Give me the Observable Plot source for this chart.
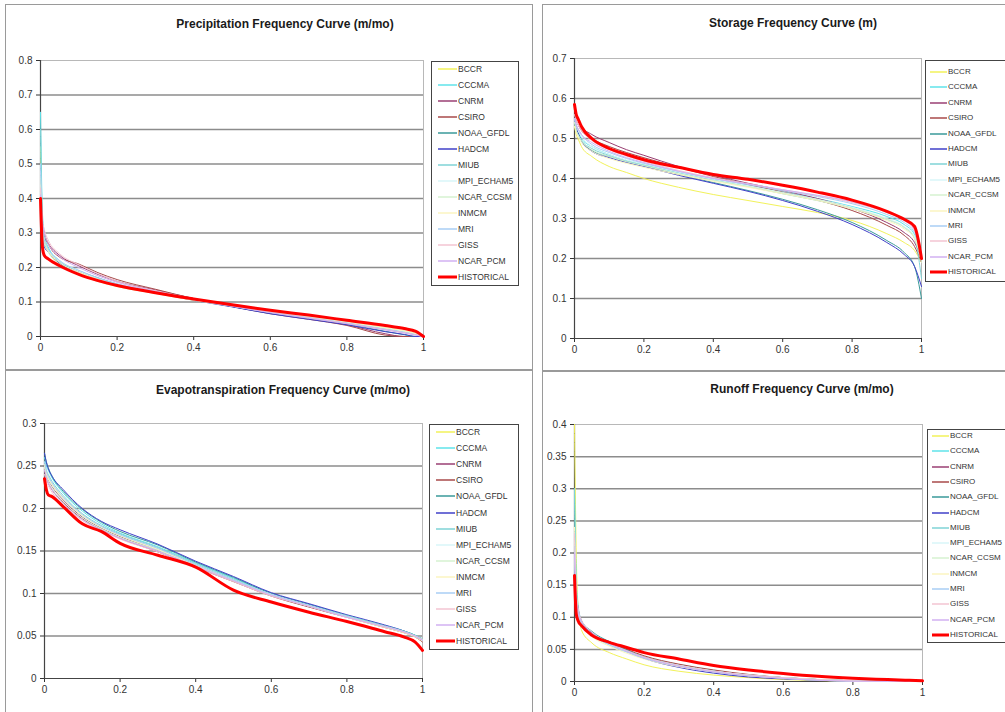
<!DOCTYPE html>
<html><head><meta charset="utf-8">
<script src="https://cdn.jsdelivr.net/npm/d3@7"></script>
<script src="https://cdn.jsdelivr.net/npm/@observablehq/plot@0.6"></script>
<style>
body{margin:0;background:#fff;font-family:"Liberation Sans",Arial,sans-serif;}
#root{position:relative;width:1005px;height:712px;overflow:hidden;background:#fff;}
.panel{position:absolute;border:1.5px solid #9a9a9a;box-sizing:border-box;background:#fff;}
.title{position:absolute;font-weight:bold;font-size:12px;line-height:14px;color:#1a1a1a;white-space:nowrap;transform:translateX(-50%);}
.legend{position:absolute;border:1px solid #444;background:#fff;box-sizing:border-box;}
.item{position:absolute;left:0;line-height:10px;color:#333;white-space:nowrap;}
.chart{position:absolute;}
</style></head>
<body><div id="root"></div>
<script>
// ---- data ----
const models = ["BCCR","CCCMA","CNRM","CSIRO","NOAA_GFDL","HADCM","MIUB","MPI_ECHAM5","NCAR_CCSM","INMCM","MRI","GISS","NCAR_PCM","HISTORICAL"];
const xs = [0, 0.005, 0.01, 0.02, 0.05, 0.1, 0.15, 0.2, 0.3, 0.4, 0.5, 0.6, 0.7, 0.8, 0.9, 0.95, 0.98, 1];
const xTicks = [0, 0.2, 0.4, 0.6, 0.8, 1];

const precipValues = [
  [0.55, 0.33, 0.28, 0.25, 0.21, 0.18, 0.16, 0.145, 0.125, 0.105, 0.09, 0.072, 0.058, 0.042, 0.025, 0.015, 0.008, 0.0],
  [0.65, 0.36, 0.30, 0.26, 0.22, 0.19, 0.165, 0.15, 0.128, 0.107, 0.088, 0.07, 0.055, 0.04, 0.022, 0.013, 0.006, 0.0],
  [0.42, 0.32, 0.29, 0.27, 0.235, 0.205, 0.18, 0.16, 0.135, 0.11, 0.088, 0.068, 0.052, 0.034, 0.008, 0.0, 0.0, 0.0],
  [0.40, 0.33, 0.30, 0.27, 0.23, 0.21, 0.185, 0.165, 0.137, 0.11, 0.087, 0.066, 0.05, 0.032, 0.004, 0.0, 0.0, 0.0],
  [0.45, 0.30, 0.27, 0.25, 0.215, 0.19, 0.17, 0.152, 0.128, 0.106, 0.087, 0.067, 0.052, 0.036, 0.015, 0.005, 0.0, 0.0],
  [0.38, 0.29, 0.26, 0.245, 0.212, 0.188, 0.168, 0.15, 0.127, 0.105, 0.086, 0.066, 0.05, 0.034, 0.014, 0.006, 0.0, 0.0],
  [0.60, 0.34, 0.29, 0.255, 0.215, 0.19, 0.168, 0.15, 0.127, 0.107, 0.089, 0.071, 0.056, 0.04, 0.022, 0.014, 0.007, 0.0],
  [0.48, 0.31, 0.28, 0.25, 0.22, 0.19, 0.168, 0.152, 0.13, 0.108, 0.09, 0.072, 0.057, 0.041, 0.024, 0.015, 0.008, 0.0],
  [0.46, 0.30, 0.27, 0.245, 0.21, 0.185, 0.165, 0.148, 0.126, 0.106, 0.089, 0.072, 0.058, 0.043, 0.026, 0.017, 0.009, 0.0],
  [0.44, 0.31, 0.28, 0.25, 0.215, 0.187, 0.166, 0.149, 0.126, 0.105, 0.088, 0.071, 0.057, 0.042, 0.025, 0.016, 0.008, 0.0],
  [0.50, 0.32, 0.28, 0.255, 0.22, 0.192, 0.17, 0.152, 0.129, 0.107, 0.088, 0.07, 0.055, 0.039, 0.021, 0.012, 0.005, 0.0],
  [0.43, 0.34, 0.31, 0.28, 0.24, 0.208, 0.182, 0.16, 0.133, 0.109, 0.089, 0.07, 0.054, 0.038, 0.02, 0.011, 0.005, 0.0],
  [0.41, 0.33, 0.30, 0.27, 0.232, 0.2, 0.176, 0.157, 0.131, 0.108, 0.088, 0.069, 0.053, 0.037, 0.019, 0.01, 0.004, 0.0],
  [0.40, 0.26, 0.235, 0.225, 0.205, 0.18, 0.162, 0.148, 0.127, 0.109, 0.092, 0.076, 0.062, 0.047, 0.032, 0.023, 0.015, 0.0]
];
const storageValues = [
  [0.53, 0.51, 0.50, 0.48, 0.455, 0.43, 0.415, 0.40, 0.378, 0.36, 0.345, 0.33, 0.315, 0.295, 0.262, 0.24, 0.22, 0.19],
  [0.55, 0.53, 0.52, 0.50, 0.48, 0.46, 0.445, 0.435, 0.415, 0.398, 0.383, 0.367, 0.35, 0.33, 0.305, 0.285, 0.26, 0.2],
  [0.57, 0.555, 0.545, 0.53, 0.51, 0.49, 0.472, 0.458, 0.43, 0.408, 0.388, 0.37, 0.35, 0.325, 0.29, 0.265, 0.24, 0.2],
  [0.56, 0.545, 0.535, 0.52, 0.50, 0.48, 0.465, 0.452, 0.428, 0.405, 0.385, 0.366, 0.346, 0.32, 0.283, 0.258, 0.23, 0.19],
  [0.55, 0.53, 0.515, 0.495, 0.47, 0.455, 0.442, 0.432, 0.41, 0.39, 0.37, 0.348, 0.322, 0.29, 0.245, 0.215, 0.18, 0.1],
  [0.55, 0.53, 0.515, 0.495, 0.468, 0.452, 0.44, 0.43, 0.408, 0.388, 0.368, 0.345, 0.318, 0.285, 0.24, 0.21, 0.18, 0.13],
  [0.54, 0.52, 0.51, 0.495, 0.475, 0.458, 0.445, 0.435, 0.415, 0.397, 0.38, 0.362, 0.345, 0.325, 0.298, 0.278, 0.25, 0.15],
  [0.55, 0.53, 0.52, 0.505, 0.48, 0.46, 0.446, 0.436, 0.416, 0.398, 0.382, 0.365, 0.348, 0.328, 0.3, 0.28, 0.255, 0.2],
  [0.54, 0.52, 0.51, 0.495, 0.472, 0.455, 0.442, 0.432, 0.412, 0.395, 0.38, 0.364, 0.347, 0.326, 0.298, 0.278, 0.252, 0.19],
  [0.53, 0.515, 0.505, 0.49, 0.468, 0.45, 0.438, 0.428, 0.41, 0.393, 0.378, 0.362, 0.345, 0.324, 0.295, 0.274, 0.25, 0.2],
  [0.55, 0.535, 0.525, 0.51, 0.485, 0.465, 0.45, 0.438, 0.418, 0.4, 0.385, 0.37, 0.355, 0.337, 0.31, 0.29, 0.265, 0.22],
  [0.56, 0.545, 0.535, 0.52, 0.495, 0.472, 0.456, 0.443, 0.42, 0.402, 0.387, 0.372, 0.357, 0.34, 0.315, 0.295, 0.27, 0.22],
  [0.55, 0.535, 0.525, 0.51, 0.49, 0.468, 0.452, 0.44, 0.418, 0.4, 0.386, 0.372, 0.358, 0.342, 0.316, 0.296, 0.272, 0.21],
  [0.585, 0.56, 0.55, 0.53, 0.50, 0.475, 0.46, 0.447, 0.428, 0.41, 0.398, 0.383, 0.366, 0.346, 0.318, 0.298, 0.28, 0.2]
];
const etValues = [
  [0.25, 0.24, 0.235, 0.228, 0.212, 0.192, 0.178, 0.168, 0.152, 0.134, 0.116, 0.099, 0.086, 0.073, 0.061, 0.055, 0.05, 0.045],
  [0.26, 0.25, 0.245, 0.236, 0.218, 0.197, 0.182, 0.171, 0.155, 0.136, 0.118, 0.1, 0.087, 0.074, 0.062, 0.056, 0.051, 0.046],
  [0.25, 0.24, 0.234, 0.226, 0.21, 0.19, 0.177, 0.167, 0.151, 0.133, 0.115, 0.098, 0.085, 0.073, 0.061, 0.055, 0.05, 0.044],
  [0.245, 0.236, 0.23, 0.222, 0.207, 0.188, 0.175, 0.165, 0.149, 0.131, 0.114, 0.097, 0.084, 0.072, 0.06, 0.054, 0.049, 0.043],
  [0.265, 0.255, 0.248, 0.238, 0.22, 0.199, 0.184, 0.173, 0.157, 0.137, 0.119, 0.1, 0.087, 0.074, 0.062, 0.056, 0.051, 0.046],
  [0.265, 0.254, 0.247, 0.238, 0.222, 0.2, 0.185, 0.175, 0.158, 0.138, 0.12, 0.101, 0.088, 0.075, 0.063, 0.056, 0.05, 0.045],
  [0.255, 0.245, 0.24, 0.232, 0.215, 0.194, 0.18, 0.17, 0.154, 0.135, 0.117, 0.099, 0.086, 0.074, 0.062, 0.056, 0.051, 0.047],
  [0.25, 0.241, 0.235, 0.227, 0.211, 0.191, 0.178, 0.168, 0.152, 0.134, 0.116, 0.099, 0.086, 0.073, 0.061, 0.055, 0.05, 0.045],
  [0.248, 0.238, 0.232, 0.224, 0.208, 0.189, 0.176, 0.166, 0.151, 0.133, 0.115, 0.098, 0.085, 0.073, 0.061, 0.055, 0.05, 0.046],
  [0.252, 0.242, 0.236, 0.228, 0.212, 0.192, 0.178, 0.168, 0.152, 0.133, 0.115, 0.098, 0.085, 0.072, 0.06, 0.054, 0.049, 0.044],
  [0.255, 0.244, 0.238, 0.23, 0.213, 0.193, 0.179, 0.169, 0.153, 0.134, 0.116, 0.099, 0.086, 0.073, 0.061, 0.055, 0.05, 0.045],
  [0.24, 0.232, 0.227, 0.219, 0.204, 0.186, 0.174, 0.164, 0.149, 0.131, 0.114, 0.097, 0.085, 0.072, 0.061, 0.055, 0.05, 0.046],
  [0.245, 0.236, 0.23, 0.222, 0.206, 0.187, 0.175, 0.165, 0.15, 0.132, 0.115, 0.098, 0.085, 0.072, 0.061, 0.055, 0.05, 0.045],
  [0.235, 0.222, 0.216, 0.214, 0.202, 0.182, 0.173, 0.159, 0.145, 0.131, 0.104, 0.09, 0.078, 0.067, 0.055, 0.049, 0.043, 0.033]
];
const runoffValues = [
  [0.40, 0.2, 0.12, 0.08, 0.06, 0.045, 0.035, 0.026, 0.016, 0.01, 0.006, 0.003, 0.0015, 0.0005, 0.0, 0.0, 0.0, 0.0],
  [0.30, 0.16, 0.12, 0.095, 0.075, 0.058, 0.047, 0.038, 0.026, 0.017, 0.01, 0.006, 0.003, 0.001, 0.0, 0.0, 0.0, 0.0],
  [0.22, 0.14, 0.115, 0.095, 0.076, 0.06, 0.048, 0.038, 0.025, 0.016, 0.01, 0.006, 0.003, 0.001, 0.0, 0.0, 0.0, 0.0],
  [0.2, 0.13, 0.11, 0.093, 0.075, 0.062, 0.05, 0.04, 0.027, 0.018, 0.011, 0.006, 0.003, 0.001, 0.0, 0.0, 0.0, 0.0],
  [0.21, 0.13, 0.11, 0.095, 0.078, 0.062, 0.049, 0.038, 0.024, 0.015, 0.009, 0.005, 0.002, 0.0005, 0.0, 0.0, 0.0, 0.0],
  [0.18, 0.12, 0.105, 0.092, 0.076, 0.06, 0.047, 0.036, 0.022, 0.013, 0.007, 0.004, 0.002, 0.0005, 0.0, 0.0, 0.0, 0.0],
  [0.30, 0.15, 0.115, 0.095, 0.077, 0.06, 0.048, 0.038, 0.025, 0.016, 0.01, 0.006, 0.003, 0.001, 0.0, 0.0, 0.0, 0.0],
  [0.22, 0.13, 0.11, 0.092, 0.074, 0.058, 0.047, 0.037, 0.025, 0.016, 0.01, 0.006, 0.003, 0.001, 0.0, 0.0, 0.0, 0.0],
  [0.2, 0.125, 0.105, 0.09, 0.072, 0.057, 0.046, 0.037, 0.025, 0.016, 0.01, 0.006, 0.003, 0.001, 0.0, 0.0, 0.0, 0.0],
  [0.24, 0.14, 0.11, 0.088, 0.07, 0.055, 0.044, 0.035, 0.023, 0.015, 0.009, 0.005, 0.002, 0.0005, 0.0, 0.0, 0.0, 0.0],
  [0.21, 0.13, 0.108, 0.09, 0.073, 0.057, 0.046, 0.036, 0.024, 0.015, 0.009, 0.005, 0.002, 0.0005, 0.0, 0.0, 0.0, 0.0],
  [0.23, 0.14, 0.115, 0.096, 0.077, 0.06, 0.048, 0.038, 0.025, 0.016, 0.01, 0.006, 0.003, 0.001, 0.0, 0.0, 0.0, 0.0],
  [0.2, 0.13, 0.11, 0.093, 0.075, 0.059, 0.047, 0.037, 0.024, 0.015, 0.009, 0.005, 0.002, 0.0005, 0.0, 0.0, 0.0, 0.0],
  [0.165, 0.105, 0.095, 0.087, 0.072, 0.061, 0.053, 0.045, 0.035, 0.025, 0.018, 0.0125, 0.008, 0.005, 0.003, 0.002, 0.0015, 0.001]
];
const precipTicks = [0, 0.1, 0.2, 0.3, 0.4, 0.5, 0.6, 0.7, 0.8];
const storageTicks = [0, 0.1, 0.2, 0.3, 0.4, 0.5, 0.6, 0.7];
const etTicks = [0, 0.05, 0.1, 0.15, 0.2, 0.25, 0.3];
const runoffTicks = [0, 0.05, 0.1, 0.15, 0.2, 0.25, 0.3, 0.35, 0.4];
const titles = ["Precipitation Frequency Curve (m/mo)", "Storage Frequency  Curve (m)", "Evapotranspiration Frequency Curve (m/mo)", "Runoff Frequency Curve (m/mo)"];

// ---- styles ----
const colors = ["#f2f25a","#5fe3ea","#9a3f73","#a84a4a","#3a9a9a","#4040c8","#7fd3d6","#d8f6f8","#d6f2d0","#fbf5c0","#a8cef5","#f3c4d2","#d2b0f2","#ff0000"];
const FONT = '"Liberation Sans", Arial, sans-serif';

const root = document.getElementById("root");
function div(cls, css, html) {
  const d = document.createElement("div");
  d.className = cls; Object.assign(d.style, css); if (html != null) d.textContent = html;
  root.appendChild(d); return d;
}
const fmt = d => String(+(+d).toFixed(2));

// legend: [left, top, width, height, firstItemCenterY, step, swatchStart, swatchEnd, fontSize]
const panels = [
  {box:[5,4,528,366], title:[285,24], plot:[40,423,60,336], ymax:0.8, ticks:precipTicks, values:precipValues, legend:[431,61,88,225,69,16,6,25,8.5]},
  {box:[542,4,480,367], title:[793,23], plot:[574,921,58,338], ymax:0.7, ticks:storageTicks, values:storageValues, legend:[925,60,100,222,72,15.4,4,21,8]},
  {box:[5,370,528,360], title:[283,390], plot:[44,422,423,678], ymax:0.3, ticks:etTicks, values:etValues, legend:[429,424,90,226,432,16.1,6,25,8.5]},
  {box:[542,371,480,360], title:[802,389], plot:[574,922,424,681], ymax:0.4, ticks:runoffTicks, values:runoffValues, legend:[927,429,100,214,436,15.3,4,21,8]}
];

panels.forEach((p, k) => {
  div("panel", {left:p.box[0]+"px", top:p.box[1]+"px", width:p.box[2]+"px", height:p.box[3]+"px"});
  div("title", {left:p.title[0]+"px", top:(p.title[1]-7)+"px"}, titles[k]);

  const [x0,x1,y0,y1] = p.plot;
  const ml=45, mr=6, mt=10, mb=26;
  const w = x1-x0+ml+mr, h = y1-y0+mt+mb;
  const series = models.map((m,i) => xs.map((x,j) => ({model:m, x, y:p.values[i][j]})));
  const lineMarks = series.map((s,i) => Plot.line(s, {x:"x", y:"y", stroke:colors[i], strokeWidth: i===13 ? 3 : 1, curve:"monotone-x"}));
  const svg = Plot.plot({
    width:w, height:h, marginLeft:ml, marginRight:mr, marginTop:mt, marginBottom:mb,
    style:{fontFamily:FONT, fontSize:"10px", color:"#333", background:"transparent", overflow:"visible"},
    x:{domain:[0,1], ticks:xTicks, tickFormat:fmt, tickSize:4, tickPadding:3, label:null},
    y:{domain:[0,p.ymax], ticks:p.ticks, tickFormat:fmt, tickSize:4, tickPadding:4, label:null},
    marks:[
      Plot.ruleY(p.ticks.filter(t => t>0 && t<p.ymax), {stroke:"#8c8c8c", strokeWidth:1.5}),
      Plot.ruleY([p.ymax], {stroke:"#b8b8b8", strokeWidth:1}),
      Plot.ruleX([1], {stroke:"#b8b8b8", strokeWidth:1}),
      Plot.ruleX([0], {stroke:"#444", strokeWidth:1.2}),
      Plot.ruleY([0], {stroke:"#444", strokeWidth:1.2}),
      ...lineMarks
    ]
  });
  svg.classList.add("chart");
  svg.style.left = (x0-ml)+"px"; svg.style.top = (y0-mt)+"px";
  root.appendChild(svg);

  const [lx,ly,lw,lh,first,step,s0,s1,fs] = p.legend;
  const lg = div("legend", {left:lx+"px", top:ly+"px", width:lw+"px", height:lh+"px"});
  models.forEach((m,i) => {
    const it = document.createElement("div");
    it.className = "item";
    it.style.fontSize = fs+"px";
    const cy = first + i*step - ly - 1;
    it.style.top = (cy-5)+"px";
    const sw = i===13 ? 3 : 1.5;
    it.innerHTML = `<svg width="${s1+1}" height="10" style="vertical-align:top"><line x1="${s0}" x2="${s1}" y1="5" y2="5" stroke="${colors[i]}" stroke-width="${sw}"/></svg><span>${m}</span>`;
    lg.appendChild(it);
  });
});
</script>
</body></html>
